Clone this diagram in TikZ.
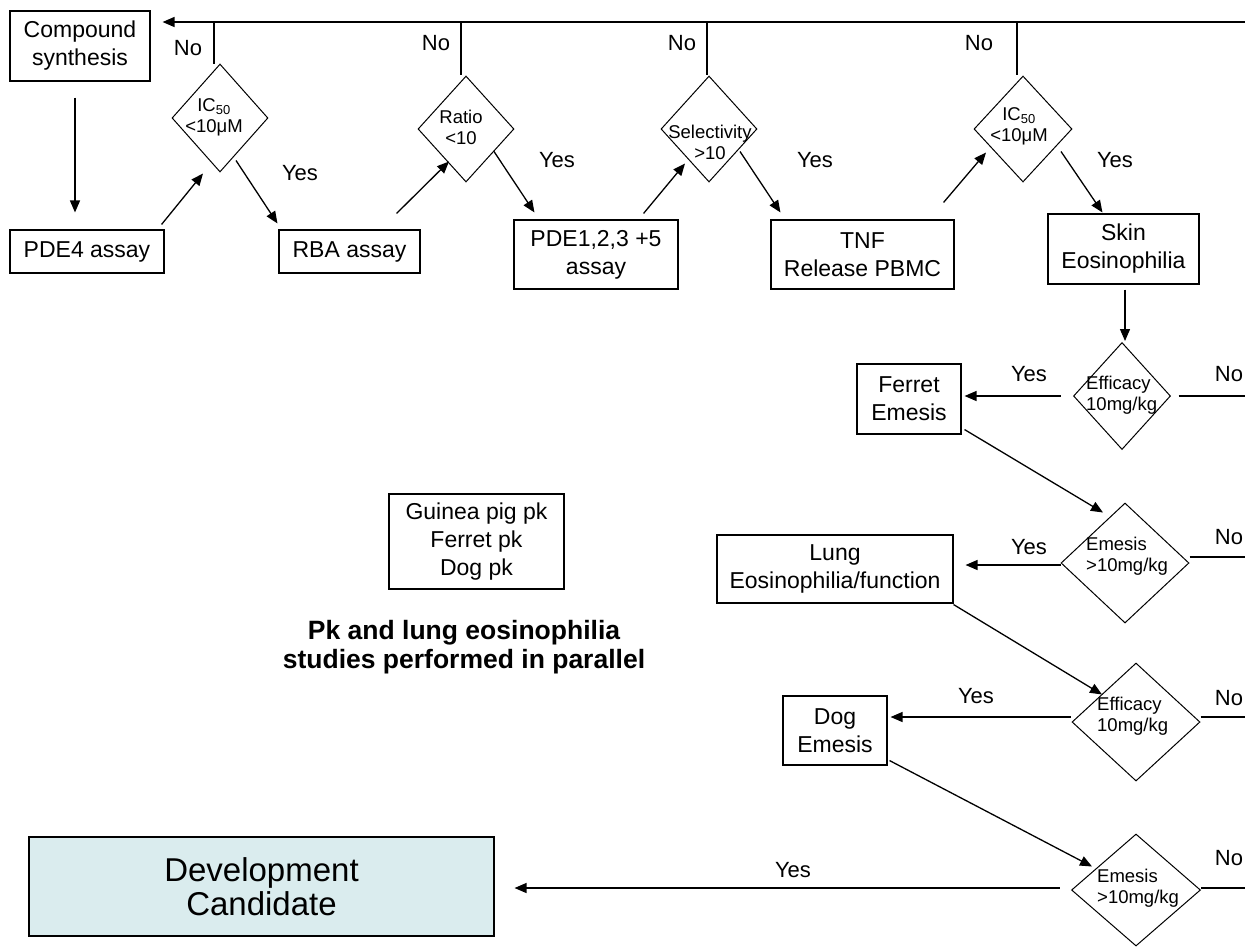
\documentclass[tikz,border=0pt]{standalone}
\usepackage{fontspec}
\setmainfont{Liberation Sans}
\usetikzlibrary{shapes.geometric,arrows.meta,calc}
\definecolor{devfill}{RGB}{218,236,238}
\begin{document}
\begin{tikzpicture}[x=1pt,y=-1pt,
  box/.style={draw,line width=1.1pt,rectangle,inner sep=0pt,align=center,font=\fontsize{23}{28}\selectfont},
  dia/.style={draw,line width=1pt,diamond,inner sep=0pt},
  dtxt/.style={inner sep=0pt,align=center,font=\fontsize{18.5}{21}\selectfont},
  dtxtl/.style={inner sep=0pt,align=left,anchor=west,font=\fontsize{18.5}{21}\selectfont},
  lab/.style={inner sep=0pt,font=\fontsize{22}{25}\selectfont},
  arr/.style={line width=1.3pt,-{Triangle[length=12pt,width=10pt]}},
  ln/.style={line width=1.3pt},
]
\fill[white] (0,0) rectangle (1245,946);
\useasboundingbox (0,0) rectangle (1245,946);

% boxes
\node[box,minimum width=140,minimum height=70] (cs) at (80,46) {Compound\\synthesis};
\node[box,minimum width=154,minimum height=43] (pde4) at (87,251.5) {PDE4 assay};
\node[box,minimum width=141,minimum height=43] (rba) at (349.5,251.5) {RBA assay};
\node[box,minimum width=164,minimum height=69] (pde1) at (596,254.5) {PDE1,2,3 +5\\assay};
\node[box,minimum width=183,minimum height=69] (tnf) at (862.5,254.5) {TNF\\Release PBMC};
\node[box,minimum width=151,minimum height=70] (skin) at (1123.5,249) {Skin\\Eosinophilia};
\node[box,minimum width=104,minimum height=70] (ferret) at (909,399) {Ferret\\Emesis};
\node[box,minimum width=236,minimum height=68] (lung) at (835,569) {Lung\\Eosinophilia/function};
\node[box,minimum width=104,minimum height=69] (dog) at (835,730.5) {Dog\\Emesis};
\node[box,minimum width=175,minimum height=95] (pk) at (476.5,541.5) {Guinea pig pk\\Ferret pk\\Dog pk};
\node[box,fill=devfill,minimum width=465,minimum height=99,font=\fontsize{33}{34}\selectfont] (dev) at (261.5,886.5) {Development\\Candidate};

% diamonds
\node[dia,minimum width=96,minimum height=108] (d1) at (220,118) {};
\node[dia,minimum width=96,minimum height=106] (d2) at (466,129) {};
\node[dia,minimum width=96,minimum height=106] (d3) at (709,129) {};
\node[dia,minimum width=98,minimum height=106] (d4) at (1023,129) {};
\node[dia,minimum width=97,minimum height=107] (d5) at (1122,396) {};
\node[dia,minimum width=128,minimum height=120] (d6) at (1125,563) {};
\node[dia,minimum width=128,minimum height=118] (d7) at (1136,722) {};
\node[dia,minimum width=129,minimum height=112] (d8) at (1136,890) {};

\node[dtxt] (d1t) at (214,117) {IC\textsubscript{50}\\<10μM};
\node[dtxt] (d2t) at (461,127) {Ratio\\<10};
\node[dtxt] (d3t) at (710,142) {Selectivity\\>10};
\node[dtxt] (d4t) at (1019,126) {IC\textsubscript{50}\\<10μM};
\node[dtxtl] (d5t) at (1086,395) {Efficacy\\10mg/kg};
\node[dtxtl] (d6t) at (1086,556) {Emesis\\>10mg/kg};
\node[dtxtl] (d7t) at (1097,716) {Efficacy\\10mg/kg};
\node[dtxtl] (d8t) at (1097,888) {Emesis\\>10mg/kg};

% labels
\node[lab] (n1) at (188,48) {No};
\node[lab] (n2) at (436,43) {No};
\node[lab] (n3) at (682,43) {No};
\node[lab] (n4) at (979,43) {No};
\node[lab] (y1) at (300,173) {Yes};
\node[lab] (y2) at (557,160) {Yes};
\node[lab] (y3) at (815,160) {Yes};
\node[lab] (y4) at (1115,160) {Yes};
\node[lab] (y5) at (1029,374) {Yes};
\node[lab] (n5) at (1229,374) {No};
\node[lab] (y6) at (1029,547) {Yes};
\node[lab] (n6) at (1229,537) {No};
\node[lab] (y7) at (976,696) {Yes};
\node[lab] (n7) at (1229,698) {No};
\node[lab] (y8) at (793,870) {Yes};
\node[lab] (n8) at (1229,858) {No};

\node[inner sep=0pt,align=center,font=\bfseries\fontsize{26.5}{29}\selectfont] (par) at (464,647) {Pk and lung eosinophilia\\studies performed in parallel};

% feedback line
\coordinate (topR) at (1245,22);
\draw[arr] (topR) -- ([shift={(12,-24)}]cs.east);
\draw[ln] ([shift={(-6,0)}]d1.north) -- +(0,-42);
\draw[ln] ([shift={(-5,-1)}]d2.north) -- +(0,-53);
\draw[ln] ([shift={(-2,-1)}]d3.north) -- +(0,-53);
\draw[ln] ([shift={(-6,-1)}]d4.north) -- +(0,-53);

% right "No" exits
\coordinate (r5) at (1245,396);
\coordinate (r6) at (1245,557);
\coordinate (r7) at (1245,717);
\coordinate (r8) at (1245,888);
\draw[ln] ([shift={(7.5,0)}]d5.east) -- (r5);
\draw[ln] ([shift={(0,-6)}]d6.east) -- (r6);
\draw[ln] ([shift={(0,-5)}]d7.east) -- (r7);
\draw[ln] ([shift={(0,-2)}]d8.east) -- (r8);

% flow arrows
\draw[arr] ([shift={(-5,16)}]cs.south) -- ([shift={(-12,-17)}]pde4.north);
\draw[arr] ([shift={(-3,-5)}]pde4.north east) -- ([shift={(-17,1)}]d1.south);
\draw[arr] ([shift={(16,-12)}]d1.south) -- ([shift={(-1,-6)}]rba.north west);
\draw[arr] ([shift={(-24,-16)}]rba.north east) -- ([shift={(-17,-21)}]d2.south);
\draw[arr] ([shift={(28,-31)}]d2.south) -- ([shift={(21,-7)}]pde1.north west);
\draw[arr] ([shift={(-35,-6)}]pde1.north east) -- ([shift={(-24,-19)}]d3.south);
\draw[arr] ([shift={(31,-31)}]d3.south) -- ([shift={(10,-7)}]tnf.north west);
\draw[arr] ([shift={(-11,-17)}]tnf.north east) -- ([shift={(-37,-30)}]d4.south);
\draw[arr] ([shift={(38,-31)}]d4.south) -- ([shift={(55,-1)}]skin.north west);
\draw[arr] ([shift={(1.5,5)}]skin.south) -- ([shift={(3,-1)}]d5.north);
\draw[arr] ([shift={(-12.5,0)}]d5.west) -- ([shift={(3,-3)}]ferret.east);
\draw[arr] ([shift={(3,-5)}]ferret.south east) -- ([shift={(-22,10)}]d6.north);
\draw[arr] ([shift={(0,2)}]d6.west) -- ([shift={(12,-4)}]lung.east);
\draw[arr] ([shift={(0,1)}]lung.south east) -- ([shift={(-34,32)}]d7.north);
\draw[arr] ([shift={(-1,-5)}]d7.west) -- ([shift={(3,-13.5)}]dog.east);
\draw[arr] ([shift={(2,-5)}]dog.south east) -- ([shift={(-44,33)}]d8.north);
\draw[arr] ([shift={(-11.5,-2)}]d8.west) -- ([shift={(20,1.5)}]dev.east);
\end{tikzpicture}
\end{document}
